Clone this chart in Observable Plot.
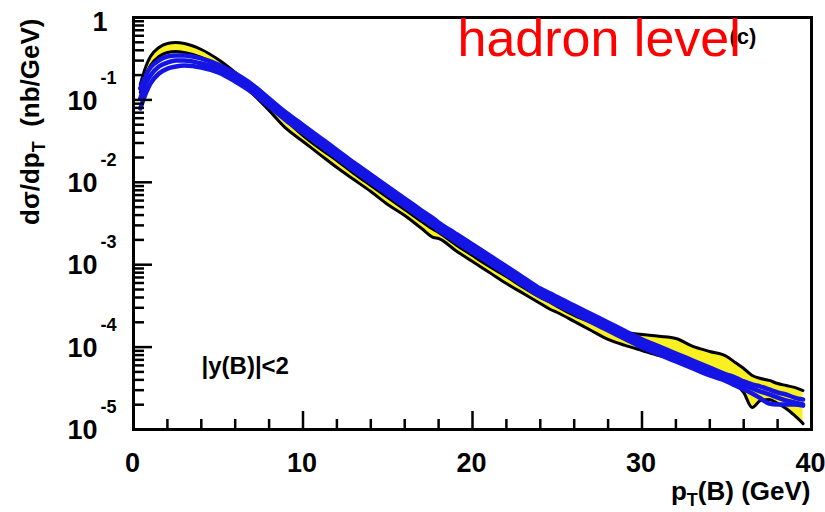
<!DOCTYPE html>
<html>
<head>
<meta charset="utf-8">
<script src="https://cdn.jsdelivr.net/npm/d3@7"></script>
<script src="https://cdn.jsdelivr.net/npm/@observablehq/plot@0.6"></script>
<style>
  html, body { margin: 0; padding: 0; background: #fff; }
  svg { display: block; }
</style>
</head>
<body>
<script>
// transverse momentum grid (GeV)
const pT = [0.4, 0.75, 1, 1.5, 2, 2.5, 3, 4, 5, 6,
  7, 8, 9, 10, 11, 12, 13, 14, 15, 16, 17,
  17.7,
  18, 19, 20, 21, 22, 23, 24,
  24.6,
  25, 26, 27, 28, 29, 30, 31, 32, 33, 34, 35,
  35.5, 36, 36.5, 37, 37.5, 38, 38.5, 39, 39.5];

// yellow band, upper edge (nb/GeV)
const bandUpper = [0.154, 0.261, 0.336, 0.433, 0.483, 0.497, 0.483, 0.409, 0.309, 0.215,
  0.141, 0.0904, 0.0562, 0.0370, 0.0257, 0.0184, 0.0128, 0.00914, 0.00654, 0.00468, 0.00334,
  0.00267,
  0.00246, 0.00176, 0.00129, 0.000951, 0.000719, 0.000528, 0.000400,
  0.000348,
  0.000311, 0.000242, 0.000199, 0.000168, 0.000150, 0.000142, 0.000135, 0.000127, 0.000102, 0.0000885, 0.0000769,
  0.0000650, 0.0000550, 0.0000452, 0.0000416, 0.0000394, 0.0000361, 0.0000342, 0.0000324, 0.0000297];

// yellow band, lower edge (nb/GeV)
const bandLower = [0.123, 0.203, 0.261, 0.336, 0.376, 0.387, 0.376, 0.327, 0.254, 0.177,
  0.120, 0.0743, 0.0450, 0.0313, 0.0217, 0.0151, 0.0108, 0.00773, 0.00538, 0.00395, 0.00275,
  0.00214,
  0.00208, 0.00149, 0.00109, 0.000804, 0.000592, 0.000447, 0.000338,
  0.000286,
  0.000263, 0.000205, 0.000159, 0.000124, 0.000105, 0.0000910, 0.0000791, 0.0000708, 0.0000615, 0.0000535, 0.0000428,
  0.0000361, 0.0000281, 0.0000185, 0.0000225, 0.0000231, 0.0000207, 0.0000180, 0.0000148, 0.0000118];

// blue curves (nb/GeV)
const blue1 = [0.138, 0.203, 0.247, 0.301, 0.336, 0.346, 0.346, 0.318, 0.269, 0.209,
  0.154, 0.104, 0.0703, 0.0496, 0.0350, 0.0247, 0.0173, 0.0124, 0.00889, 0.00636, 0.00454,
  0.00363,
  0.00325, 0.00239, 0.00176, 0.00130, 0.000951, 0.000699, 0.000514,
  0.000447,
  0.000405, 0.000320, 0.000252, 0.000199, 0.000157, 0.000124, 0.000102, 0.0000836, 0.0000688, 0.0000566, 0.0000465,
  0.0000428, 0.0000383, 0.0000352, 0.0000332, 0.0000306, 0.0000281, 0.0000266, 0.0000244, 0.0000231];

const blue2 = [0.104, 0.163, 0.198, 0.254, 0.284, 0.301, 0.301, 0.277, 0.240, 0.187,
  0.138, 0.0929, 0.0629, 0.0444, 0.0313, 0.0221, 0.0155, 0.0111, 0.00795, 0.00569, 0.00406,
  0.00325,
  0.00291, 0.00214, 0.00157, 0.00116, 0.000851, 0.000625, 0.000460,
  0.000400,
  0.000362, 0.000286, 0.000225, 0.000178, 0.000140, 0.000111, 0.0000910, 0.0000748, 0.0000615, 0.0000506, 0.0000416,
  0.0000383, 0.0000342, 0.0000315, 0.0000289, 0.0000266, 0.0000244, 0.0000225, 0.0000213, 0.0000201];

const blue3 = [0.0787, 0.123, 0.158, 0.209, 0.240, 0.254, 0.261, 0.247, 0.215, 0.167,
  0.123, 0.0831, 0.0563, 0.0397, 0.0280, 0.0198, 0.0139, 0.00993, 0.00711, 0.00509, 0.00363,
  0.00291,
  0.00260, 0.00191, 0.00140, 0.00104, 0.000761, 0.000559, 0.000411,
  0.000358,
  0.000324, 0.000256, 0.000201, 0.000159, 0.000125, 0.0000992, 0.0000814, 0.0000669, 0.0000550, 0.0000452, 0.0000383,
  0.0000342, 0.0000306, 0.0000274, 0.0000238, 0.0000207, 0.0000201, 0.0000201, 0.0000201, 0.0000195];

// axis ticks and labels
const xMajorTicks = [0, 10, 20, 30, 40];
const xMinorTicks = [2, 4, 6, 8, 12, 14, 16, 18, 22, 24, 26, 28, 32, 34, 36, 38];
const yDecadeTicks = [1e-1, 1e-2, 1e-3, 1e-4, 1e-5];
const yDecadeExponents = ["-1", "-2", "-3", "-4", "-5"];
const yTopTick = [1];
const yMinorTicks = [];
for (const d of [1e-5, 1e-4, 1e-3, 1e-2, 1e-1]) for (const k of [2,3,4,5,6,7,8,9]) yMinorTicks.push(k * d);

const xTitle = "pT(B) (GeV)";
const yTitle = "dσ/dpT  (nb/GeV)";
const overlayText = "hadron level";
const panelTag = "(c)";
const cutText = "|y(B)|<2";

const rows = pT.map((x, i) => ({
  pT: x, upper: bandUpper[i], lower: bandLower[i],
  b1: blue1[i], b2: blue2[i], b3: blue3[i]
}));

const BLUE = "#1414e4";
const YELLOW = "#f8f020";
const curve = "monotone-x";
const bold = {fontWeight: "bold", fill: "black"};

const svg = Plot.plot({
  width: 825,
  height: 512,
  marginLeft: 133,
  marginRight: 14,
  marginTop: 17,
  marginBottom: 83,
  style: {fontFamily: "'Liberation Sans', Arial, Helvetica, sans-serif", background: "white"},
  x: {domain: [0, 40]},
  y: {type: "log", domain: [1e-5, 1]},
  marks: [
    Plot.areaY(rows, {x: "pT", y1: "lower", y2: "upper", fill: YELLOW, curve}),
    Plot.line(rows, {x: "pT", y: "upper", stroke: "black", strokeWidth: 3, curve}),
    Plot.line(rows, {x: "pT", y: "lower", stroke: "black", strokeWidth: 3, curve}),
    Plot.line(rows, {x: "pT", y: "b3", stroke: BLUE, strokeWidth: 4.5, curve}),
    Plot.line(rows, {x: "pT", y: "b2", stroke: BLUE, strokeWidth: 4.5, curve}),
    Plot.line(rows, {x: "pT", y: "b1", stroke: BLUE, strokeWidth: 4.5, curve}),
    // inward ticks
    Plot.axisY(yMinorTicks, {anchor: "left", tickSize: -11, tickFormat: () => "", strokeWidth: 2.5, label: null}),
    Plot.axisY([...yTopTick, ...yDecadeTicks], {anchor: "left", tickSize: -19, tickFormat: () => "", strokeWidth: 2.5, label: null}),
    Plot.axisX(xMinorTicks, {anchor: "bottom", tickSize: -10, tickFormat: () => "", strokeWidth: 2.5, label: null}),
    Plot.axisX(xMajorTicks, {anchor: "bottom", tickSize: -18, tickFormat: () => "", strokeWidth: 2.5, label: null}),
    Plot.frame({stroke: "black", strokeWidth: 3}),
    // tick labels
    Plot.text(yDecadeTicks, {y: d => d, text: () => "10", frameAnchor: "left", dx: -36, dy: 1, textAnchor: "end", lineAnchor: "middle", fontSize: 27, ...bold}),
    Plot.text(yDecadeTicks, {y: d => d, text: (d, i) => yDecadeExponents[i], frameAnchor: "left", dx: -33, dy: -22, textAnchor: "start", lineAnchor: "middle", fontSize: 18, ...bold}),
    Plot.text(yTopTick, {y: d => d, text: () => "1", frameAnchor: "left", dx: -26, dy: 5, textAnchor: "end", lineAnchor: "middle", fontSize: 27, ...bold}),
    Plot.text(xMajorTicks, {x: d => d, text: d => String(d), frameAnchor: "bottom", dx: -1, dy: 34, lineAnchor: "middle", fontSize: 27, ...bold}),
    // titles
    Plot.text([xTitle], {text: d => d, frameAnchor: "bottom-right", dx: -1, dy: 70, textAnchor: "end", lineAnchor: "bottom", fontSize: 26, ...bold}),
    Plot.text([yTitle], {text: d => d, frameAnchor: "top-left", dx: -95, dy: 1, rotate: -90, textAnchor: "end", lineAnchor: "bottom", fontSize: 26, ...bold}),
    // annotations
    Plot.text([cutText], {text: d => d, frameAnchor: "bottom-left", dx: 68, dy: -56, textAnchor: "start", lineAnchor: "bottom", fontSize: 24, ...bold}),
    Plot.text([panelTag], {text: d => d, frameAnchor: "top-left", dx: 596, dy: 26, textAnchor: "start", lineAnchor: "bottom", fontSize: 22, ...bold}),
    Plot.text([overlayText], {text: d => d, frameAnchor: "top-left", dx: 324, dy: 38, textAnchor: "start", lineAnchor: "bottom", fontSize: 52, fill: "red", fontWeight: "normal"})
  ]
});
document.body.appendChild(svg);

// subscript T in the axis titles
function subscriptT(full, before, after, shift) {
  const t = d3.select(svg).selectAll("text").filter(function () { return this.textContent === full; });
  t.text(null).attr("xml:space", "preserve").style("white-space", "pre");
  t.append("tspan").text(before);
  t.append("tspan").attr("dy", shift).attr("font-size", 18).text("T");
  t.append("tspan").attr("dy", -shift).text(after);
}
subscriptT(xTitle, "p", "(B) (GeV)", 6);
subscriptT(yTitle, "dσ/dp", "  (nb/GeV)", 6);
</script>
</body>
</html>
